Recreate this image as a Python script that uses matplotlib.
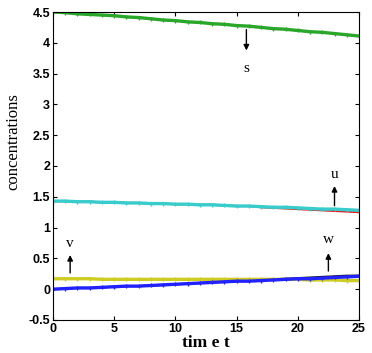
import numpy as np
import matplotlib.pyplot as plt

plt.rcParams['font.family'] = 'Liberation Serif'

# time grid and concentrations
t = np.arange(0, 26)
s = [4.50, 4.49, 4.47, 4.46, 4.45, 4.44, 4.42, 4.41, 4.39, 4.37, 4.36, 4.34, 4.33,
     4.31, 4.30, 4.28, 4.27, 4.25, 4.23, 4.22, 4.20, 4.18, 4.17, 4.15, 4.13, 4.11]
u = [1.43, 1.43, 1.42, 1.42, 1.41, 1.41, 1.40, 1.40, 1.39, 1.39, 1.38, 1.38, 1.37,
     1.37, 1.36, 1.35, 1.35, 1.34, 1.33, 1.33, 1.32, 1.31, 1.30, 1.30, 1.29, 1.28]
u_ref = [1.43, 1.43, 1.42, 1.42, 1.41, 1.41, 1.40, 1.40, 1.39, 1.39, 1.38, 1.38, 1.37,
         1.37, 1.36, 1.35, 1.35, 1.33, 1.32, 1.31, 1.30, 1.29, 1.28, 1.27, 1.26, 1.25]
v = [0.17, 0.17, 0.17, 0.17, 0.16, 0.16, 0.16, 0.16, 0.16, 0.16, 0.16, 0.16, 0.16,
     0.16, 0.16, 0.16, 0.16, 0.16, 0.16, 0.16, 0.16, 0.15, 0.15, 0.15, 0.14, 0.14]
w = [0.00, 0.01, 0.02, 0.02, 0.03, 0.04, 0.05, 0.05, 0.06, 0.07, 0.08, 0.09, 0.10,
     0.11, 0.12, 0.13, 0.13, 0.14, 0.15, 0.16, 0.17, 0.17, 0.18, 0.19, 0.20, 0.21]
w_ref = [0.00, 0.01, 0.02, 0.02, 0.03, 0.04, 0.05, 0.05, 0.06, 0.07, 0.08, 0.09, 0.10,
         0.11, 0.12, 0.13, 0.14, 0.15, 0.16, 0.17, 0.18, 0.19, 0.20, 0.21, 0.22, 0.22]

xticks = [0, 5, 10, 15, 20, 25]
yticks = [-0.5, 0, 0.5, 1, 1.5, 2, 2.5, 3, 3.5, 4, 4.5]

fig = plt.figure(figsize=(3.72, 3.53), dpi=100)
ax = fig.add_axes([0.1425, 0.0935, 0.8225, 0.8725])

# underlying reference curves
ax.plot(t, s, color='#2020c0', lw=1.2)
ax.plot(t, u_ref, color='#e02020', lw=1.5)
ax.plot(t, w_ref, color='#202020', lw=1.5)

mk = dict(marker='+', markersize=3.5, mew=0.9, lw=2.4)
ax.plot(t, s, color='#2aa62a', **mk)
ax.plot(t, u, color='#38cccc', **mk)
ax.plot(t, v, color='#cccc22', **mk)
ax.plot(t, w, color='#2222ff', **mk)

arrow = dict(arrowstyle='-|>', color='black', lw=1.0, mutation_scale=8)
ax.annotate('', xy=(15.8, 3.83), xytext=(15.8, 4.26), arrowprops=arrow)
ax.text(15.8, 3.58, 's', ha='center', va='center', fontsize=11)
ax.annotate('', xy=(23.0, 1.72), xytext=(23.0, 1.31), arrowprops=arrow)
ax.text(23.0, 1.87, 'u', ha='center', va='center', fontsize=11)
ax.annotate('', xy=(1.4, 0.6), xytext=(1.4, 0.22), arrowprops=arrow)
ax.text(1.4, 0.74, 'v', ha='center', va='center', fontsize=11)
ax.annotate('', xy=(22.5, 0.63), xytext=(22.5, 0.25), arrowprops=arrow)
ax.text(22.5, 0.8, 'w', ha='center', va='center', fontsize=11)

ax.set_xlim(0, 25)
ax.set_ylim(-0.5, 4.5)
ax.set_xticks(xticks)
ax.set_yticks(yticks)
ax.set_yticklabels(['-0.5', '0', '0.5', '1', '1.5', '2', '2.5', '3', '3.5', '4', '4.5'])
ax.tick_params(direction='in', top=True, right=True, length=3, labelsize=9, pad=2)
for lab in ax.get_xticklabels() + ax.get_yticklabels():
    lab.set_fontweight('bold')
    lab.set_family('Liberation Sans')
ax.set_xlabel('tim e t', fontsize=12.5, fontweight='bold', labelpad=0)
ax.set_ylabel('concentrations', fontsize=12)
ax.yaxis.set_label_coords(-0.105, 0.578)

fig.savefig('out.png', dpi=100)
